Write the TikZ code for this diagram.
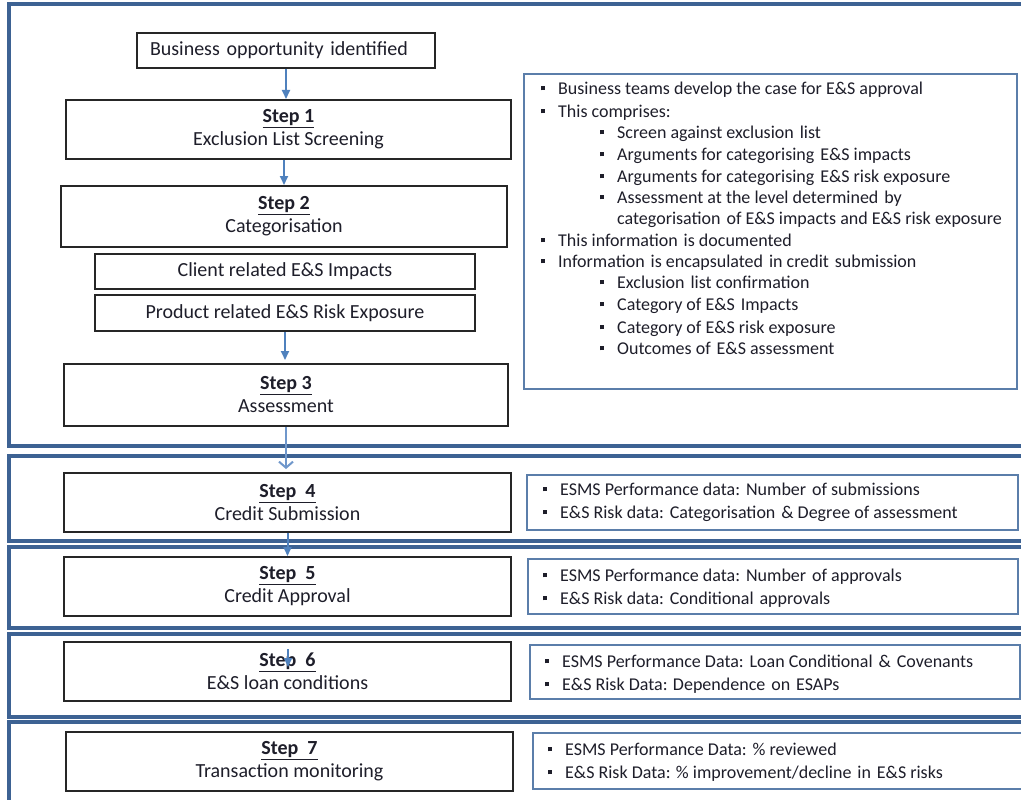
\documentclass[tikz,border=0pt]{standalone}
\usepackage{fontspec}
\setmainfont{Carlito}
\usetikzlibrary{arrows.meta,calc}
\definecolor{bandblue}{HTML}{3D6293}
\definecolor{infoblue}{HTML}{5B7EAA}
\definecolor{flowblue}{HTML}{4F81BD}
\definecolor{flowlight}{HTML}{6F97CB}
\definecolor{ink}{HTML}{1E1E2A}
\newcommand\stephead[1]{\underline{\textbf{#1}}}
\newcommand\bulletmark{\llap{\raisebox{0.22em}{\rule{4.2pt}{4.2pt}}\hspace{13pt}}}
\newcommand\wg{\hspace{0.33em}}

\begin{document}
\begin{tikzpicture}[x=1pt,y=-1pt,
  band/.style={draw=bandblue,line width=4pt},
  stepbox/.style={draw=black!85,line width=2pt,inner sep=0pt,align=center,
    font=\fontsize{20}{23}\selectfont,text=ink},
  infobox/.style={draw=infoblue,line width=2pt,inner sep=0pt},
  infoline/.style={anchor=mid west,inner sep=0pt,
    font=\fontsize{18}{21}\selectfont,text=ink},
  flow/.style={draw=flowblue,line width=2pt,-{Triangle[length=9pt,width=8pt]}},
  sz/.style 2 args={minimum width=#1pt,minimum height=#2pt}]

\useasboundingbox (0,0) rectangle (1021,800);
\clip (0,0) rectangle (1021,800);
\fill[white] (0,0) rectangle (1021,800);

% stage bands
\draw[band] (9,4)   rectangle (1040,446);
\draw[band] (9,456) rectangle (1040,541);
\draw[band] (9,547) rectangle (1040,628);
\draw[band] (9,634) rectangle (1040,717);
\draw[band] (9,722) rectangle (1040,820);

% process steps
\node[stepbox,sz={298}{35},text width=272pt,align=left] (bo) at (286,50.5)
  {Business opportunity identified};
\node[stepbox,sz={445}{59}] (s1) at (288.5,129.5)
  {\stephead{Step 1}\\Exclusion List Screening};
\node[stepbox,sz={446}{61}] (s2) at (284,216.5)
  {\stephead{Step 2}\\Categorisation};
\node[stepbox,sz={380}{35}] (cl) at (285,271.5) {Client related E\&S Impacts};
\node[stepbox,sz={380}{36}] (pr) at (285,313) {Product related E\&S Risk Exposure};
\node[stepbox,sz={444}{62}] (s3) at (286,395)
  {\stephead{Step 3}\\Assessment};
\node[stepbox,sz={447}{59}] (s4) at (287.5,502.5)
  {\stephead{Step\hspace{0.45em}4}\\Credit Submission};
\node[stepbox,sz={447}{59}] (s5) at (287.5,586.5)
  {\stephead{Step\hspace{0.45em}5}\\Credit Approval};
\node[stepbox,sz={447}{59}] (s6) at (287.5,671.5)
  {\stephead{Step\hspace{0.45em}6}\\E\&S loan conditions};
\node[stepbox,sz={447}{59}] (s7) at (289.5,761.5)
  {\stephead{Step\hspace{0.45em}7}\\Transaction monitoring};

% flow arrows
\draw[flow] (bo.south) -- (bo.south |- s1.north);
\draw[flow] (s2.north |- s1.south) -- (s2.north);
\draw[flow,shorten >=3pt] (pr.south) -- (pr.south |- s3.north);
\draw[draw=flowlight,line width=2pt,-{Straight Barb[length=6pt,width=14pt]},shorten >=3pt]
  (s3.south) -- (s3.south |- s4.north);
\draw[flow] (s4.south) -- (s4.south |- s5.north);
\draw[flow] ($(s6.north)+(0.5,8)$) -- ($(s6.north)+(0.5,26)$);

% information boxes
\node[infobox,sz={493}{315}] (ib1) at (770.5,231.5) {};
\node[infobox,sz={491}{55}] (ib4) at (772.5,502.5) {};
\node[infobox,sz={490}{55}] (ib5) at (773,586.5) {};
\node[infobox,sz={490}{54}] (ib6) at (775,672) {};
\node[infobox,sz={497}{56}] (ib7) at (781.5,761) {};

\begin{scope}[yshift=-3pt]
\node[infoline] (a1)  at (558,89)  {\bulletmark Business teams develop the case for E\&S approval};
\node[infoline] (a2)  at (558,112) {\bulletmark This comprises:};
\node[infoline] (a3)  at (617,133) {\bulletmark Screen against exclusion\wg list};
\node[infoline] (a4)  at (617,155) {\bulletmark Arguments for categorising\wg E\&S impacts};
\node[infoline] (a5)  at (617,177) {\bulletmark Arguments for categorising\wg E\&S risk exposure};
\node[infoline] (a6)  at (617,198) {\bulletmark Assessment at the level determined\wg by};
\node[infoline] (a7)  at (617,219) {categorisation\wg of E\&S impacts and E\&S risk exposure};
\node[infoline] (a8)  at (558,241) {\bulletmark This information\wg is documented};
\node[infoline] (a9)  at (558,262) {\bulletmark Information\wg is encapsulated\wg in credit\wg submission};
\node[infoline] (a10) at (617,283) {\bulletmark Exclusion\wg list confirmation};
\node[infoline] (a11) at (617,305) {\bulletmark Category of E\&S\wg Impacts};
\node[infoline] (a12) at (617,328) {\bulletmark Category of E\&S risk exposure};
\node[infoline] (a13) at (617,349) {\bulletmark Outcomes of\wg E\&S assessment};

\node[infoline] (b1) at (560,490) {\bulletmark ESMS Performance data:\wg Number\wg of submissions};
\node[infoline] (b2) at (560,513) {\bulletmark E\&S Risk data:\wg Categorisation\wg \& Degree of assessment};
\node[infoline] (c1) at (560,576) {\bulletmark ESMS Performance data:\wg Number\wg of approvals};
\node[infoline] (c2) at (560,599) {\bulletmark E\&S Risk data:\wg Conditional\wg approvals};
\node[infoline] (d1) at (562,662) {\bulletmark ESMS Performance Data:\wg Loan Conditional\wg \&\wg Covenants};
\node[infoline] (d2) at (562,685) {\bulletmark E\&S Risk Data: Dependence\wg on\wg ESAPs};
\node[infoline] (e1) at (565,750) {\bulletmark ESMS Performance Data:\wg \% reviewed};
\node[infoline] (e2) at (565,773) {\bulletmark E\&S Risk Data: \% improvement/decline\wg in\wg E\&S risks};
\end{scope}
\end{tikzpicture}
\end{document}
